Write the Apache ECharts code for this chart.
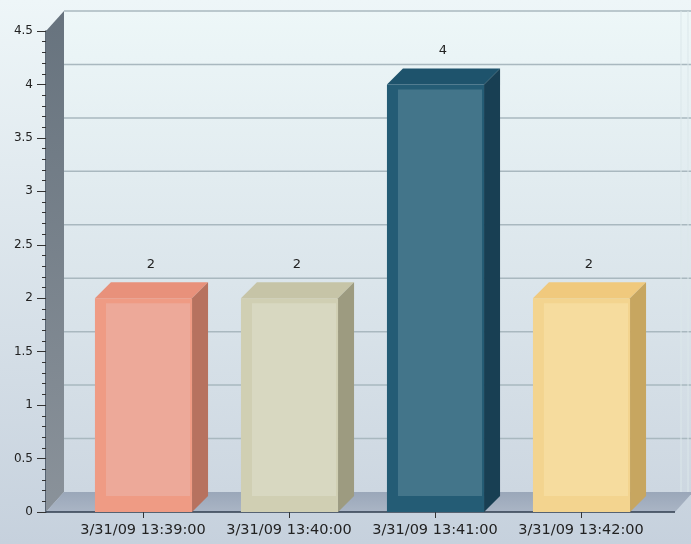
<!DOCTYPE html>
<html>
<head>
<meta charset="utf-8">
<script src="https://cdn.jsdelivr.net/npm/echarts@6/dist/echarts.min.js"></script>
<style>html,body{margin:0;padding:0;}#c{width:691px;height:544px;}</style>
</head>
<body>
<div id="c"></div>
<script>
const categories = ['3/31/09 13:39:00', '3/31/09 13:40:00', '3/31/09 13:41:00', '3/31/09 13:42:00'];
const values = [2, 2, 4, 2];
const yMin = 0, yMax = 4.5, yStep = 0.5;

const barStyles = [
  { edge: '#ef9b84', panel: '#eda999', side: '#b7725f', top: '#e8917b' },
  { edge: '#d0cfb3', panel: '#d8d8c1', side: '#9d9b80', top: '#c6c4a7' },
  { edge: '#245c75', panel: '#43758a', side: '#183f53', top: '#1e536c' },
  { edge: '#f3d48f', panel: '#f6dc9e', side: '#c7a660', top: '#f0c97d' }
];

const chart = echarts.init(document.getElementById('c'));
const WX = 18, WY = 20, AX_OFF = 24;

function renderWalls(params, api) {
  const cs = params.coordSys;
  const y0 = api.coord([0, yMin])[1];
  const yTop = api.coord([0, yMax])[1];
  const ax = cs.x - AX_OFF;
  const right = cs.x + cs.width + 21;
  const children = [];
  children.push({
    type: 'rect', shape: { x: ax + WX, y: yTop - WY, width: 700 - ax - WX, height: y0 - yTop },
    style: { fill: new echarts.graphic.LinearGradient(0, 0, 0, 1, [
      { offset: 0, color: '#edf7f8' }, { offset: 1, color: '#cdd7e1' }]) }
  });
  for (let v = yMin + yStep; v <= yMax + 1e-9; v += yStep) {
    const y = api.coord([0, v])[1] - WY;
    children.push({ type: 'line', shape: { x1: ax + WX, y1: y, x2: 700, y2: y },
      style: { stroke: '#a9b8bf', lineWidth: 1.5 } });
  }
  children.push({ type: 'line', shape: { x1: 681, y1: yTop - WY, x2: 681, y2: y0 - WY },
    style: { stroke: '#dbe7ea', lineWidth: 1 } });
  children.push({ type: 'line', shape: { x1: 688, y1: yTop - WY, x2: 688, y2: y0 - WY },
    style: { stroke: '#dbe7ea', lineWidth: 1 } });
  children.push({
    type: 'polygon', shape: { points: [[ax, yTop], [ax + WX, yTop - WY], [ax + WX, y0 - WY], [ax, y0]] },
    style: { fill: new echarts.graphic.LinearGradient(0, 0, 0, 1, [
      { offset: 0, color: '#67737e' }, { offset: 1, color: '#8a929a' }]) }
  });
  children.push({
    type: 'polygon', shape: { points: [[ax, y0], [ax + WX, y0 - WY], [right + WX, y0 - WY], [right, y0]] },
    style: { fill: new echarts.graphic.LinearGradient(0, 0, 0, 1, [
      { offset: 0, color: '#9aa7b9' }, { offset: 1, color: '#aab5c5' }]) }
  });
  children.push({ type: 'line', shape: { x1: ax, y1: y0, x2: right, y2: y0 },
    style: { stroke: '#2f3d4c', lineWidth: 1.5 } });
  return { type: 'group', children };
}

function renderBar(params, api) {
  const idx = api.value(0);
  const val = api.value(1);
  const p = api.coord([idx, val]);
  const b = api.coord([idx, yMin]);
  const band = api.size([1, 0])[0];
  const w = band * 0.665;
  const d = 16;
  const left = p[0] - w / 2 + 0.5;
  const top = p[1];
  const bottom = b[1];
  const s = barStyles[params.dataIndex];
  return {
    type: 'group',
    children: [
      { type: 'rect', shape: { x: left, y: top, width: w, height: bottom - top }, style: { fill: s.edge } },
      { type: 'rect', shape: { x: left + 11, y: top + 5, width: w - 13, height: bottom - top - 21 },
        style: { fill: s.panel } },
      { type: 'polygon', shape: { points: [[left, top], [left + d, top - d], [left + w + d, top - d], [left + w, top]] },
        style: { fill: s.top } },
      { type: 'polygon', shape: { points: [[left + w, top], [left + w + d, top - d], [left + w + d, bottom - d], [left + w, bottom]] },
        style: { fill: s.side } },
      { type: 'text', x: p[0] + d / 2, y: top - d - 18,
        style: { text: String(val), fill: '#222', font: '13px "DejaVu Sans"', align: 'center', verticalAlign: 'middle' } }
    ]
  };
}

chart.setOption({
  animation: false,
  backgroundColor: new echarts.graphic.LinearGradient(0, 0, 0, 1, [
    { offset: 0, color: '#eef6f8' }, { offset: 1, color: '#c6d1dd' }]),
  grid: { left: 70, right: 37, top: 31, bottom: 32 },
  xAxis: {
    type: 'category', data: categories,
    axisLine: { show: false },
    axisTick: { show: true, alignWithLabel: true, length: 6, lineStyle: { color: '#333' } },
    axisLabel: { interval: 0, hideOverlap: false, margin: 11, fontSize: 14.5, color: '#222', fontFamily: 'DejaVu Sans' },
    splitLine: { show: false }
  },
  yAxis: {
    type: 'value', min: yMin, max: yMax, interval: yStep, offset: AX_OFF,
    axisLine: { show: true, lineStyle: { color: '#2f3d4c', width: 1.5 } },
    axisTick: { show: true, length: 9, lineStyle: { color: '#333' } },
    minorTick: { show: true, splitNumber: 5, length: 4, lineStyle: { color: '#333' } },
    axisLabel: { margin: 13, fontSize: 12, color: '#222', fontFamily: 'DejaVu Sans' },
    splitLine: { show: false }
  },
  series: [
    { type: 'custom', z: 1, silent: true, renderItem: renderWalls, data: [[0, 0]] },
    { type: 'custom', z: 2, renderItem: renderBar,
      data: values.map((v, i) => [i, v]) }
  ]
});
</script>
</body>
</html>
